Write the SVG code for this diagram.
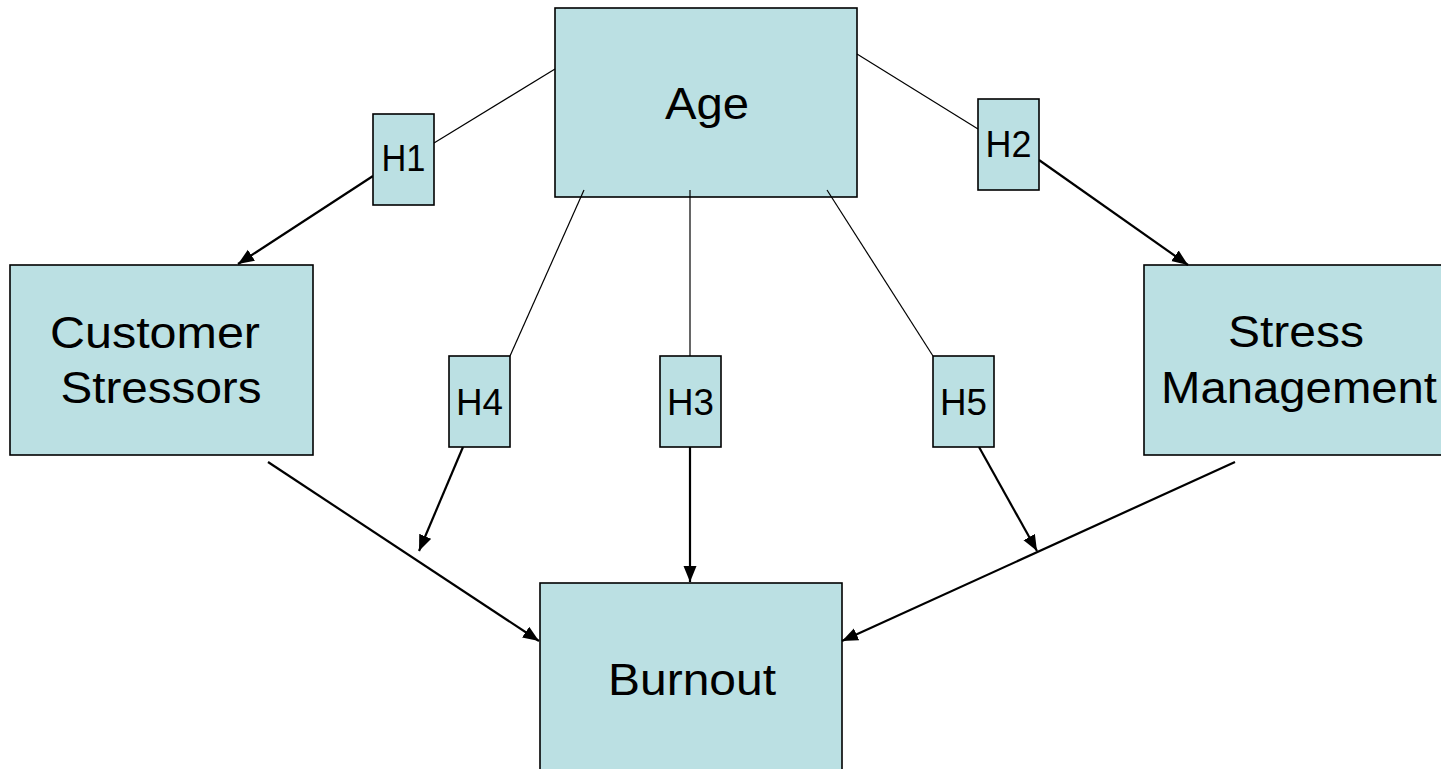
<svg xmlns="http://www.w3.org/2000/svg" width="1441" height="769" viewBox="0 0 1441 769">
  <style>
    .box { fill: #BBE0E3; stroke: #000; stroke-width: 1.6; }
    .big { font-family: "Liberation Sans", Arial, sans-serif; font-size: 44px; fill: #000; text-anchor: middle; }
    .hyp { font-family: "Liberation Sans", Arial, sans-serif; font-size: 36px; fill: #000; text-anchor: middle; }
    .thin { stroke: #000; stroke-width: 1.2; fill: none; }
    .arr { stroke: #000; stroke-width: 2.2; fill: none; marker-end: url(#head); }
  </style>
  <defs>
    <marker id="head" markerUnits="userSpaceOnUse" markerWidth="17" markerHeight="14" refX="16" refY="6.5" orient="auto">
      <path d="M0,0 L16,6.5 L0,13 z" fill="#000"/>
    </marker>
  </defs>
  <rect width="1441" height="769" fill="#fff"/>

  <!-- main constructs -->
  <g id="age">
    <rect class="box" x="555" y="8" width="302" height="189"/>
    <text class="big" x="707" y="119" textLength="84" lengthAdjust="spacingAndGlyphs">Age</text>
  </g>
  <g id="customer-stressors">
    <rect class="box" x="10" y="265" width="303" height="190"/>
    <text class="big" x="155" y="348" textLength="210" lengthAdjust="spacingAndGlyphs">Customer</text>
    <text class="big" x="161" y="403" textLength="201" lengthAdjust="spacingAndGlyphs">Stressors</text>
  </g>
  <g id="stress-management">
    <rect class="box" x="1144" y="265" width="303" height="190"/>
    <text class="big" x="1296" y="347" textLength="136" lengthAdjust="spacingAndGlyphs">Stress</text>
    <text class="big" x="1299" y="403" textLength="276" lengthAdjust="spacingAndGlyphs">Management</text>
  </g>
  <g id="burnout">
    <rect class="box" x="540" y="583" width="302" height="192"/>
    <text class="big" x="692" y="695" textLength="168" lengthAdjust="spacingAndGlyphs">Burnout</text>
  </g>

  <!-- connectors -->
  <g id="connectors">
    <line class="thin" x1="555" y1="69" x2="434" y2="143"/>
    <line class="arr" x1="373" y1="176" x2="238" y2="264"/>
    <line class="thin" x1="857" y1="54" x2="978" y2="129"/>
    <line class="arr" x1="1039" y1="160" x2="1188" y2="265"/>
    <line class="thin" x1="584" y1="190" x2="510" y2="356"/>
    <line class="arr" x1="463" y1="447" x2="419" y2="551"/>
    <line class="thin" x1="690" y1="190" x2="690" y2="356"/>
    <line class="arr" x1="690" y1="447" x2="690" y2="582"/>
    <line class="thin" x1="827" y1="190" x2="933" y2="356"/>
    <line class="arr" x1="979" y1="447" x2="1037" y2="551"/>
    <line class="arr" x1="268" y1="462" x2="539" y2="641"/>
    <line class="arr" x1="1235" y1="462" x2="842" y2="641"/>
  </g>

  <!-- hypothesis labels -->
  <g id="h1">
    <rect class="box" x="373" y="114" width="61" height="91"/>
    <text class="hyp" x="403.5" y="171" textLength="44" lengthAdjust="spacingAndGlyphs">H1</text>
  </g>
  <g id="h2">
    <rect class="box" x="978" y="99" width="61" height="91"/>
    <text class="hyp" x="1008.5" y="157" textLength="46" lengthAdjust="spacingAndGlyphs">H2</text>
  </g>
  <g id="h3">
    <rect class="box" x="660" y="356" width="61" height="91"/>
    <text class="hyp" x="690.5" y="415" textLength="47" lengthAdjust="spacingAndGlyphs">H3</text>
  </g>
  <g id="h4">
    <rect class="box" x="449" y="356" width="61" height="91"/>
    <text class="hyp" x="479.5" y="415" textLength="47" lengthAdjust="spacingAndGlyphs">H4</text>
  </g>
  <g id="h5">
    <rect class="box" x="933" y="356" width="61" height="91"/>
    <text class="hyp" x="963.5" y="415" textLength="47" lengthAdjust="spacingAndGlyphs">H5</text>
  </g>
</svg>
